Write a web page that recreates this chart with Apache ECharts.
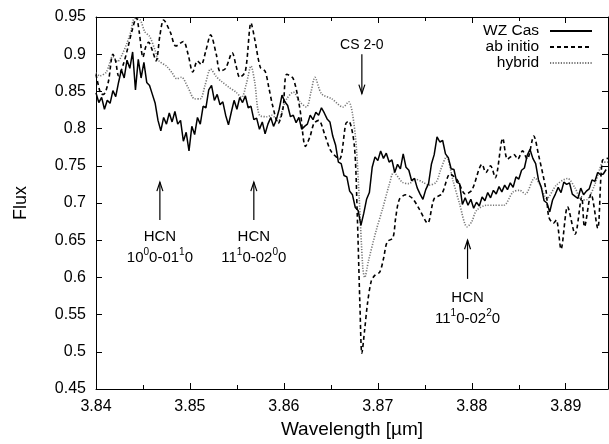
<!DOCTYPE html>
<html>
<head>
<meta charset="utf-8">
<script src="https://cdn.jsdelivr.net/npm/echarts@6/dist/echarts.min.js"></script>
<style>
html,body{margin:0;padding:0;background:#fff;}
#chart{width:609px;height:444px;}
</style>
</head>
<body>
<div id="chart"></div>
<script>
// ---- data ----
const xTicks = [3.84, 3.85, 3.86, 3.87, 3.88, 3.89];
const yTicks = [0.45, 0.5, 0.55, 0.6, 0.65, 0.7, 0.75, 0.8, 0.85, 0.9, 0.95];

// observed spectrum WZ Cas, sampled every 0.0003 micron from 3.84
const wzStart = 3.84;
const wzStep = 0.0003;
const wzFlux = [
0.848,0.835,0.842,0.826,0.838,0.834,0.851,0.843,0.862,0.879,
0.868,0.892,0.881,0.903,0.852,0.893,0.868,0.889,0.862,0.858,
0.846,0.834,0.811,0.797,0.815,0.806,0.821,0.809,0.823,0.806,
0.811,0.783,0.795,0.770,0.803,0.792,0.815,0.806,0.830,0.828,
0.852,0.858,0.838,0.846,0.832,0.836,0.818,0.805,0.822,0.838,
0.826,0.842,0.835,0.844,0.828,0.830,0.812,0.814,0.799,0.809,
0.793,0.806,0.815,0.803,0.812,0.826,0.845,0.836,0.831,0.816,
0.818,0.808,0.815,0.799,0.803,0.806,0.818,0.812,0.822,0.818,
0.828,0.821,0.813,0.809,0.790,0.778,0.755,0.753,0.737,0.735,
0.716,0.711,0.694,0.690,0.670,0.686,0.705,0.714,0.748,0.762,
0.757,0.770,0.760,0.767,0.755,0.758,0.741,0.752,0.746,0.766,
0.748,0.744,0.730,0.733,0.720,0.712,0.705,0.718,0.726,0.752,
0.765,0.789,0.782,0.784,0.766,0.761,0.746,0.745,0.728,0.726,
0.698,0.707,0.697,0.705,0.693,0.701,0.696,0.708,0.703,0.714,
0.707,0.717,0.712,0.722,0.715,0.724,0.718,0.727,0.721,0.735,
0.732,0.744,0.747,0.764,0.772,0.760,0.753,0.731,0.721,0.703,
0.700,0.688,0.704,0.712,0.721,0.714,0.728,0.725,0.727,0.712,
0.709,0.706,0.720,0.711,0.716,0.719,0.731,0.729,0.741,0.738,
0.739,0.745
];

// ab initio model [wavelength, flux]
const abInitio = [
[3.8400,0.873],[3.8405,0.847],[3.8408,0.846],[3.8413,0.862],[3.8418,0.900],[3.8421,0.890],[3.8424,0.871],
[3.8429,0.886],[3.8434,0.909],[3.8438,0.930],[3.8443,0.949],[3.8446,0.930],[3.8450,0.896],[3.8453,0.910],
[3.8456,0.916],[3.8460,0.905],[3.8464,0.891],[3.8468,0.925],[3.8472,0.946],[3.8479,0.930],[3.8485,0.911],
[3.8493,0.917],[3.8498,0.900],[3.8503,0.876],[3.8508,0.891],[3.8512,0.886],[3.8517,0.905],[3.8522,0.926],
[3.8528,0.900],[3.8532,0.877],[3.8538,0.881],[3.8545,0.902],[3.8549,0.885],[3.8553,0.869],[3.8559,0.877],
[3.8565,0.942],[3.8569,0.920],[3.8575,0.882],[3.8580,0.877],[3.8584,0.855],[3.8588,0.831],[3.8594,0.807],
[3.8599,0.827],[3.8603,0.873],[3.8610,0.867],[3.8617,0.827],[3.8623,0.776],[3.8628,0.790],[3.8632,0.807],
[3.8637,0.811],[3.8644,0.790],[3.8650,0.770],[3.8659,0.759],[3.8666,0.807],[3.8669,0.810],[3.8675,0.777],
[3.8678,0.688],[3.8681,0.560],[3.8683,0.498],[3.8686,0.530],[3.8689,0.565],[3.8693,0.595],[3.8697,0.603],
[3.8702,0.607],[3.8706,0.625],[3.8710,0.648],[3.8716,0.653],[3.8719,0.680],[3.8723,0.705],[3.8730,0.711],
[3.8737,0.706],[3.8744,0.692],[3.8753,0.673],[3.8760,0.706],[3.8768,0.712],[3.8777,0.739],[3.8785,0.730],
[3.8793,0.712],[3.8800,0.717],[3.8811,0.752],[3.8815,0.741],[3.8820,0.750],[3.8825,0.734],[3.8833,0.787],
[3.8838,0.759],[3.8845,0.765],[3.8849,0.759],[3.8854,0.770],[3.8859,0.759],[3.8866,0.790],[3.8871,0.765],
[3.8879,0.717],[3.8882,0.681],[3.8887,0.673],[3.8890,0.677],[3.8895,0.638],[3.8902,0.695],[3.8910,0.658],
[3.8917,0.708],[3.8920,0.668],[3.8927,0.712],[3.8934,0.666],[3.8939,0.757],[3.8945,0.760]
];

// hybrid model [wavelength, flux]
const hybrid = [
[3.8400,0.875],[3.8404,0.871],[3.8411,0.876],[3.8418,0.897],[3.8423,0.890],[3.8428,0.900],[3.8433,0.915],
[3.8437,0.930],[3.8441,0.948],[3.8447,0.946],[3.8452,0.930],[3.8457,0.924],[3.8463,0.905],[3.8467,0.891],
[3.8475,0.884],[3.8481,0.875],[3.8486,0.867],[3.8491,0.869],[3.8498,0.855],[3.8505,0.840],[3.8511,0.840],
[3.8516,0.858],[3.8522,0.880],[3.8528,0.870],[3.8533,0.864],[3.8541,0.856],[3.8549,0.849],[3.8555,0.842],
[3.8560,0.860],[3.8565,0.884],[3.8569,0.862],[3.8574,0.818],[3.8582,0.816],[3.8587,0.818],[3.8594,0.810],
[3.8599,0.828],[3.8603,0.840],[3.8610,0.849],[3.8617,0.836],[3.8624,0.829],[3.8629,0.850],[3.8633,0.869],
[3.8640,0.847],[3.8651,0.840],[3.8663,0.829],[3.8669,0.836],[3.8673,0.820],[3.8677,0.777],[3.8680,0.711],
[3.8684,0.613],[3.8686,0.600],[3.8690,0.622],[3.8698,0.662],[3.8705,0.692],[3.8712,0.724],[3.8717,0.741],
[3.8726,0.728],[3.8733,0.726],[3.8740,0.732],[3.8748,0.728],[3.8754,0.724],[3.8762,0.728],[3.8767,0.745],
[3.8773,0.762],[3.8780,0.730],[3.8787,0.699],[3.8795,0.668],[3.8800,0.675],[3.8805,0.690],[3.8816,0.697],
[3.8823,0.697],[3.8834,0.697],[3.8844,0.715],[3.8851,0.717],[3.8857,0.712],[3.8867,0.734],[3.8872,0.726],
[3.8880,0.706],[3.8890,0.724],[3.8902,0.733],[3.8910,0.720],[3.8917,0.704],[3.8923,0.705],[3.8931,0.725],
[3.8936,0.745],[3.8940,0.755],[3.8945,0.755]
];

const seriesNames = ['WZ Cas', 'ab initio', 'hybrid'];

// annotations: arrow x, tail/head flux, text centre flux, text
const annotations = [
  {x: 3.8468, tail: 0.677, head: 0.728, textY: 0.640, size: 15, text: 'HCN\n10{s|0}0-01{s|1}0'},
  {x: 3.8568, tail: 0.677, head: 0.728, textY: 0.640, size: 15, text: 'HCN\n11{s|1}0-02{s|0}0'},
  {x: 3.8683, tail: 0.900, head: 0.847, textY: 0.912, size: 14, text: 'CS 2-0'},
  {x: 3.87955, tail: 0.598, head: 0.650, textY: 0.559, size: 15, text: 'HCN\n11{s|1}0-02{s|2}0'}
];

// ---- chart ----
const FONT = "'Liberation Sans', Arial, Helvetica, sans-serif";
const chart = echarts.init(document.getElementById('chart'), null, {renderer: 'canvas'});
const wzData = wzFlux.map((f, i) => [wzStart + i * wzStep, f]);

const axisCommon = {
  axisLine: {show: true, lineStyle: {color: '#000', width: 1}},
  axisTick: {show: true, inside: true, length: 6, lineStyle: {color: '#000', width: 1}},
  splitLine: {show: false}
};

const option = {
  animation: false,
  backgroundColor: '#fff',
  grid: {left: 96, top: 17, right: 1, bottom: 49, containLabel: false},
  legend: {
    orient: 'vertical', align: 'right', right: 16, top: 23, padding: 0,
    itemWidth: 42, itemHeight: 10, itemGap: 0,
    itemStyle: {opacity: 0},
    textStyle: {fontFamily: FONT, fontSize: 15.5, color: '#000', padding: [0, 6, 0, 0]},
    data: seriesNames
  },
  xAxis: [
    Object.assign({}, axisCommon, {
      type: 'value', min: xTicks[0], max: 3.8945, interval: 0.01, position: 'bottom',
      minorTick: {show: true, splitNumber: 2, length: 4, lineStyle: {color: '#000'}},
      axisLabel: {fontFamily: FONT, fontSize: 16, color: '#000', margin: 10,
        formatter: v => v.toFixed(2), showMaxLabel: false},
      name: 'Wavelength [µm]', nameLocation: 'middle', nameGap: 31,
      nameTextStyle: {fontFamily: FONT, fontSize: 19, color: '#000'}
    }),
    Object.assign({}, axisCommon, {
      type: 'value', min: xTicks[0], max: 3.8945, interval: 0.01, position: 'top',
      minorTick: {show: true, splitNumber: 2, length: 4, lineStyle: {color: '#000'}},
      axisLabel: {show: false}
    })
  ],
  yAxis: [
    Object.assign({}, axisCommon, {
      type: 'value', min: yTicks[0], max: yTicks[yTicks.length - 1], interval: 0.05, position: 'left',
      axisLabel: {fontFamily: FONT, fontSize: 16, color: '#000', margin: 10,
        formatter: v => String(parseFloat(v.toFixed(2)))},
      name: 'Flux', nameLocation: 'middle', nameGap: 66, nameRotate: 90,
      nameTextStyle: {fontFamily: FONT, fontSize: 18, color: '#000'}
    }),
    Object.assign({}, axisCommon, {
      type: 'value', min: yTicks[0], max: yTicks[yTicks.length - 1], interval: 0.05, position: 'right',
      axisLabel: {show: false}
    })
  ],
  series: [
    {name: seriesNames[0], type: 'line', data: wzData, symbol: 'none', z: 5,
     lineStyle: {color: '#000', width: 1.5, type: 'solid'}, itemStyle: {color: '#000'}},
    {name: seriesNames[1], type: 'line', data: abInitio, symbol: 'none', smooth: 0.3, z: 4,
     lineStyle: {color: '#000', width: 1.6, type: [4, 3]}, itemStyle: {color: '#000'}},
    {name: seriesNames[2], type: 'line', data: hybrid, symbol: 'none', smooth: 0.3, z: 3,
     lineStyle: {color: '#777', width: 1.6, type: [1.2, 1.5]}, itemStyle: {color: '#777'}}
  ]
};
chart.setOption(option);

// annotations positioned through the axes
const gfx = [];
annotations.forEach(a => {
  const t = chart.convertToPixel({xAxisIndex: 0, yAxisIndex: 0}, [a.x, a.tail]);
  const h = chart.convertToPixel({xAxisIndex: 0, yAxisIndex: 0}, [a.x, a.head]);
  const c = chart.convertToPixel({xAxisIndex: 0, yAxisIndex: 0}, [a.x, a.textY]);
  const dir = h[1] < t[1] ? 1 : -1; // 1: arrow pointing up
  gfx.push({type: 'line', shape: {x1: t[0], y1: t[1], x2: h[0], y2: h[1]},
    style: {stroke: '#000', lineWidth: 1.2}, z: 10});
  gfx.push({type: 'polyline', shape: {points: [[h[0] - 3, h[1] + dir * 9], [h[0], h[1]], [h[0] + 3, h[1] + dir * 9]]},
    style: {stroke: '#000', lineWidth: 1.2, fill: null}, z: 10});
  gfx.push({type: 'text', x: c[0], y: c[1], z: 10,
    style: {text: a.text, fontFamily: FONT, fontSize: a.size, lineHeight: 21, fill: '#000',
      align: 'center', verticalAlign: 'middle',
      rich: {s: {fontFamily: FONT, fontSize: 10, lineHeight: 21, verticalAlign: 'top', padding: [0, 0, 8, 0], fill: '#000'}}}});
});
chart.setOption({graphic: gfx});
</script>
</body>
</html>
